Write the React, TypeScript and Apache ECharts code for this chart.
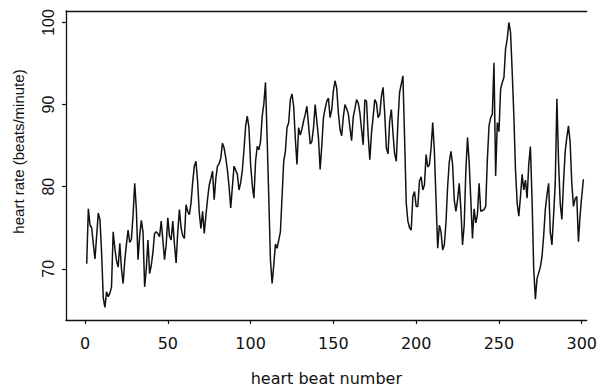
import React, { useEffect, useRef } from "react";
import * as echarts from "echarts";

// heart rate (beats/minute) for beats 1..301
const heartRate: number[] = [
  70.6, 77.3, 75.3, 75.0, 73.0, 71.2, 74.0, 76.8, 76.0, 72.0,
  66.5, 65.3, 67.2, 66.6, 67.0, 67.8, 74.5, 72.5, 71.0, 70.2,
  73.1, 70.0, 68.2, 71.0, 73.0, 74.7, 73.2, 73.6, 76.5, 80.4,
  77.2, 71.1, 74.0, 75.9, 74.5, 67.8, 70.0, 73.5, 69.4, 70.4,
  72.0, 74.3, 74.5, 74.3, 73.9, 75.8, 73.5, 71.1, 72.9, 76.2,
  74.0, 73.5, 75.8, 73.0, 70.7, 74.5, 77.2, 75.0, 74.0, 73.7,
  77.8, 77.0, 76.6, 78.0, 80.5, 82.5, 83.1, 80.6, 76.8, 74.9,
  77.0, 74.3, 76.5, 78.5, 80.2, 81.0, 81.9, 78.4, 81.0, 82.5,
  82.8, 83.5, 85.3, 84.7, 83.5, 82.0, 80.0, 77.4, 80.0, 82.5,
  82.0, 81.5, 79.6, 80.5, 82.0, 84.5, 87.4, 88.6, 87.2, 82.7,
  80.2, 78.6, 83.1, 84.9, 84.5, 85.5, 88.6, 90.1, 92.7, 85.8,
  78.5, 71.0, 68.2, 70.5, 73.0, 72.5, 73.5, 74.5, 78.8, 83.1,
  84.3, 87.2, 87.8, 90.6, 91.3, 89.8, 85.9, 82.7, 87.2, 86.3,
  87.0, 88.0, 88.8, 89.8, 87.5, 85.2, 85.5, 87.2, 90.0, 88.0,
  85.9, 82.1, 85.0, 88.4, 89.5, 90.4, 90.8, 88.4, 89.4, 91.7,
  92.9, 92.0, 89.0, 87.0, 86.2, 88.5, 90.0, 89.5, 88.9, 87.2,
  85.6, 88.5, 89.5, 90.6, 90.2, 89.0, 87.0, 85.1, 90.6, 90.4,
  86.3, 83.3, 86.5, 88.5, 90.6, 90.2, 88.4, 88.8, 91.0, 92.1,
  88.9, 84.7, 84.0, 88.0, 89.4, 86.5, 84.0, 83.1, 88.0, 91.5,
  92.5, 93.5, 86.0, 78.0, 75.8, 75.0, 74.7, 78.8, 79.4, 77.6,
  77.6, 80.7, 81.2, 79.6, 80.2, 83.9, 82.4, 82.7, 84.7, 87.8,
  84.3, 78.4, 72.5, 75.3, 74.5, 72.3, 72.9, 75.6, 80.0, 83.0,
  84.3, 82.7, 78.4, 77.0, 78.4, 80.4, 77.3, 72.9, 75.3, 81.9,
  86.0, 83.0, 78.4, 73.7, 77.3, 75.6, 76.6, 80.4, 77.0, 77.1,
  77.2, 77.6, 83.3, 87.4, 88.4, 88.8, 95.1, 81.3, 87.8, 86.7,
  91.9, 92.7, 93.3, 96.8, 98.0, 100.0, 98.8, 94.0, 88.6, 82.0,
  78.0, 76.4, 78.8, 81.5, 79.6, 80.8, 78.6, 82.7, 84.9, 78.4,
  70.0, 66.3, 68.8, 69.5, 70.2, 71.5, 74.0, 77.2, 79.0, 80.4,
  74.5, 72.9, 76.5, 80.4, 90.7, 83.0, 78.0, 76.0, 80.5, 84.3,
  86.0, 87.4, 85.4, 80.4, 77.6, 78.5, 78.8, 73.3, 76.5, 78.8,
  80.9,
];

const beatNumbers: number[] = heartRate.map((_, i) => i + 1);

const xTicks: number[] = [0, 50, 100, 150, 200, 250, 300];
const yTicks: number[] = [70, 80, 90, 100];

const xTitle = "heart beat number";
const yTitle = "heart rate (beats/minute)";

export default function App() {
  const ref = useRef<HTMLDivElement>(null);

  useEffect(() => {
    document.body.style.margin = "0";
    if (!ref.current) return;
    const chart = echarts.init(ref.current, undefined, { renderer: "svg" });
    const ink = "#111";
    const xMin = -11.5;
    const xMax = 303;
    chart.setOption({
      animation: false,
      backgroundColor: "#fff",
      grid: { left: 66, right: 13, top: 11, bottom: 60 },
      xAxis: [
        {
          type: "value",
          min: xMin,
          max: xMax,
          axisLine: { show: true, onZero: false, lineStyle: { color: ink, width: 1.3 } },
          axisTick: {
            show: true,
            length: 4,
            inside: false,
            customValues: xTicks,
            lineStyle: { color: ink, width: 1.2 },
          },
          axisLabel: {
            customValues: xTicks,
            margin: 15,
            color: ink,
            fontSize: 16,
            fontFamily: "DejaVu Sans",
          },
          splitLine: { show: false },
          name: xTitle,
          nameLocation: "middle",
          nameGap: 50,
          nameTextStyle: { color: ink, fontSize: 16, fontFamily: "DejaVu Sans" },
        },
        {
          type: "value",
          position: "top",
          min: xMin,
          max: xMax,
          axisLine: { show: true, onZero: false, lineStyle: { color: ink, width: 1.3 } },
          axisTick: { show: false },
          axisLabel: { show: false },
          splitLine: { show: false },
        },
      ],
      yAxis: {
        type: "value",
        min: 63.76,
        max: 101.4,
        axisLine: { show: true, onZero: false, lineStyle: { color: ink, width: 1.3 } },
        axisTick: {
          show: true,
          length: 4,
          customValues: yTicks,
          lineStyle: { color: ink, width: 1.2 },
        },
        axisLabel: {
          customValues: yTicks,
          rotate: 90,
          margin: 10,
          color: ink,
          fontSize: 16,
          fontFamily: "Liberation Sans",
        },
        splitLine: { show: false },
        name: yTitle,
        nameLocation: "middle",
        nameGap: 40,
        nameTextStyle: {
          color: ink,
          fontSize: 15,
          fontFamily: "Liberation Sans",
          padding: [0, 0, 0, 28],
        },
      },
      series: [
        {
          type: "line",
          xAxisIndex: 0,
          data: beatNumbers.map((b, i) => [b, heartRate[i]]),
          showSymbol: false,
          symbol: "none",
          lineStyle: { color: ink, width: 1.5 },
        },
      ],
    });
    return () => chart.dispose();
  }, []);

  return <div ref={ref} style={{ width: 600, height: 391 }} />;
}
